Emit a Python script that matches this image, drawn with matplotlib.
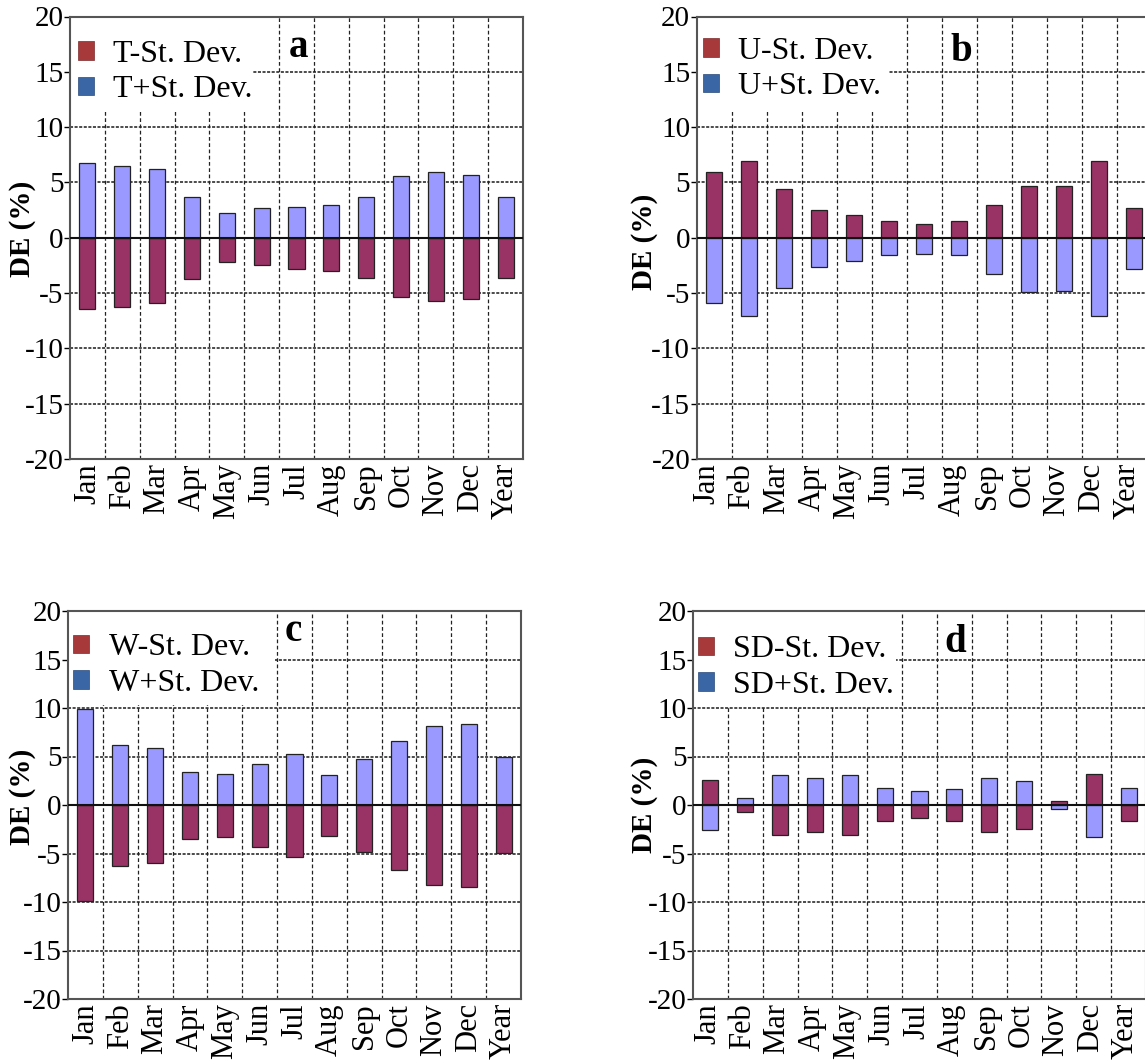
import matplotlib
matplotlib.use("Agg")
import matplotlib.pyplot as plt
import matplotlib.transforms as mtransforms
from matplotlib.patches import Patch, Rectangle
import numpy as np

plt.rcParams['font.family'] = ['Liberation Serif', 'DejaVu Serif']

months = ["Jan", "Feb", "Mar", "Apr", "May", "Jun", "Jul", "Aug", "Sep", "Oct", "Nov", "Dec", "Year"]

# Panel a (T)
t_minus = [-6.4, -6.3, -5.9, -3.7, -2.2, -2.5, -2.8, -3.0, -3.6, -5.4, -5.7, -5.5, -3.6]
t_plus = [6.8, 6.5, 6.2, 3.7, 2.2, 2.7, 2.8, 3.0, 3.7, 5.6, 5.9, 5.7, 3.7]
# Panel b (U)
u_minus = [5.9, 6.9, 4.4, 2.5, 2.1, 1.5, 1.2, 1.5, 3.0, 4.7, 4.7, 6.9, 2.7]
u_plus = [-5.9, -7.1, -4.5, -2.6, -2.1, -1.6, -1.5, -1.6, -3.3, -4.9, -4.8, -7.1, -2.8]
# Panel c (W)
w_minus = [-9.9, -6.3, -6.0, -3.5, -3.3, -4.3, -5.4, -3.2, -4.8, -6.7, -8.2, -8.5, -4.9]
w_plus = [9.9, 6.2, 5.9, 3.4, 3.2, 4.2, 5.3, 3.1, 4.7, 6.6, 8.1, 8.4, 4.9]
# Panel d (SD)
sd_minus = [2.6, -0.7, -3.1, -2.8, -3.1, -1.7, -1.3, -1.6, -2.8, -2.5, 0.45, 3.2, -1.7]
sd_plus = [-2.6, 0.7, 3.1, 2.8, 3.1, 1.8, 1.4, 1.6, 2.8, 2.5, -0.4, -3.3, 1.8]

panels = [
    ("a", "T", t_minus, t_plus),
    ("b", "U", u_minus, u_plus),
    ("c", "W", w_minus, w_plus),
    ("d", "SD", sd_minus, sd_plus),
]

# axes boxes in pixels: left, top, right, bottom
boxes_px = [
    (70, 16.5, 523, 459),
    (696.5, 16.5, 1151.5, 459),
    (68, 611, 521, 999),
    (693, 611, 1146, 999),
]
W, H = 1145, 1063
letter_pos = [(0.505, 0.931), (0.583, 0.92), (0.497, 0.946), (0.578, 0.92)]
ylabel_pos = [(-0.075, 0.52), (-0.085, 0.49), (-0.071, 0.52), (-0.077, 0.50)]
# white legend backdrop extents (pixels right edge, pixels bottom edge)
backdrop_px = [(253, 110), (889, 110), (275, 705), (896, 707)]
# legend anchor offsets in pixels from the axes top-left corner
legend_off_px = [(1.5, 17), (0, 14), (-1, 16), (-1.5, 18)]
xlabel_shift_px = [0, -7, 0, -3]

bar_minus_color = "#993366"
bar_plus_color = "#9999FF"
leg_minus_color = "#A8393A"
leg_plus_color = "#3A66A6"

fig = plt.figure(figsize=(11.45, 10.63), dpi=100)

for i, (letter, var, minus, plus) in enumerate(panels):
    l, t, r, b = boxes_px[i]
    aw, ah = r - l, b - t
    ax = fig.add_axes([l / W, (H - b) / H, aw / W, ah / H])
    x = np.arange(len(months))
    ax.bar(x, minus, width=0.46, color=bar_minus_color, edgecolor="#222222", linewidth=0.9, zorder=3)
    ax.bar(x, plus, width=0.46, color=bar_plus_color, edgecolor="#222222", linewidth=0.9, zorder=3)
    ax.set_xlim(-0.5, len(months) - 0.5)
    ax.set_ylim(-20, 20)
    ax.set_yticks([-20, -15, -10, -5, 0, 5, 10, 15, 20])
    ax.set_yticklabels(["-20", "-15", "-10", "-5", "0", "5", "10", "15", "20"])
    ax.set_xticks(x)
    ax.set_xticklabels(months, rotation=90, ha="center", va="top")
    ax.tick_params(axis="x", length=0, labelsize=22, pad=3)
    ax.tick_params(axis="y", length=4, width=1, direction="out", labelsize=21, pad=0.5)
    if xlabel_shift_px[i]:
        off = mtransforms.ScaledTranslation(xlabel_shift_px[i] / 100, 0, fig.dpi_scale_trans)
        for lab in ax.get_xticklabels():
            lab.set_transform(lab.get_transform() + off)
    # gridlines
    for yv in [-15, -10, -5, 5, 10, 15, 20]:
        ax.axhline(yv, color="#1a1a1a", linestyle=(0, (2, 1)), linewidth=1.1, zorder=1)
    for xv in np.arange(0.5, len(months) - 0.5, 1.0):
        ax.axvline(xv, color="#222222", linestyle=(0, (3, 2)), linewidth=0.9, zorder=1)
    ax.axhline(0, color="#111111", linewidth=1.5, zorder=4)
    for s in ax.spines.values():
        s.set_color("#555555")
        s.set_linewidth(1.5)
    ax.set_ylabel("DE (%)", fontsize=21, fontweight="bold")
    ax.yaxis.set_label_coords(*ylabel_pos[i])
    # white backdrop behind legend hiding gridlines
    bx, by = backdrop_px[i]
    bw = (bx - l) / aw
    bh = (by - t) / ah
    ax.add_patch(Rectangle((0, 1 - bh), bw, bh, transform=ax.transAxes,
                           facecolor="white", edgecolor="none", zorder=2))
    handles = [Patch(facecolor=leg_minus_color, edgecolor="#7a2a2a", linewidth=0.5),
               Patch(facecolor=leg_plus_color, edgecolor="#2a4a7a", linewidth=0.5)]
    ox, oy = legend_off_px[i]
    leg = ax.legend(handles, [f"{var}-St. Dev.", f"{var}+St. Dev."], loc="upper left",
                    bbox_to_anchor=(ox / aw, 1 - oy / ah), borderaxespad=0, frameon=False,
                    fontsize=23, handlelength=0.5, handleheight=0.5, handletextpad=0.6,
                    borderpad=0.2, labelspacing=0.2)
    leg.set_zorder(6)
    ax.text(letter_pos[i][0], letter_pos[i][1], letter, transform=ax.transAxes,
            fontsize=28, fontweight="bold", ha="center", va="center", zorder=7)

fig.savefig("out.png", dpi=100)
